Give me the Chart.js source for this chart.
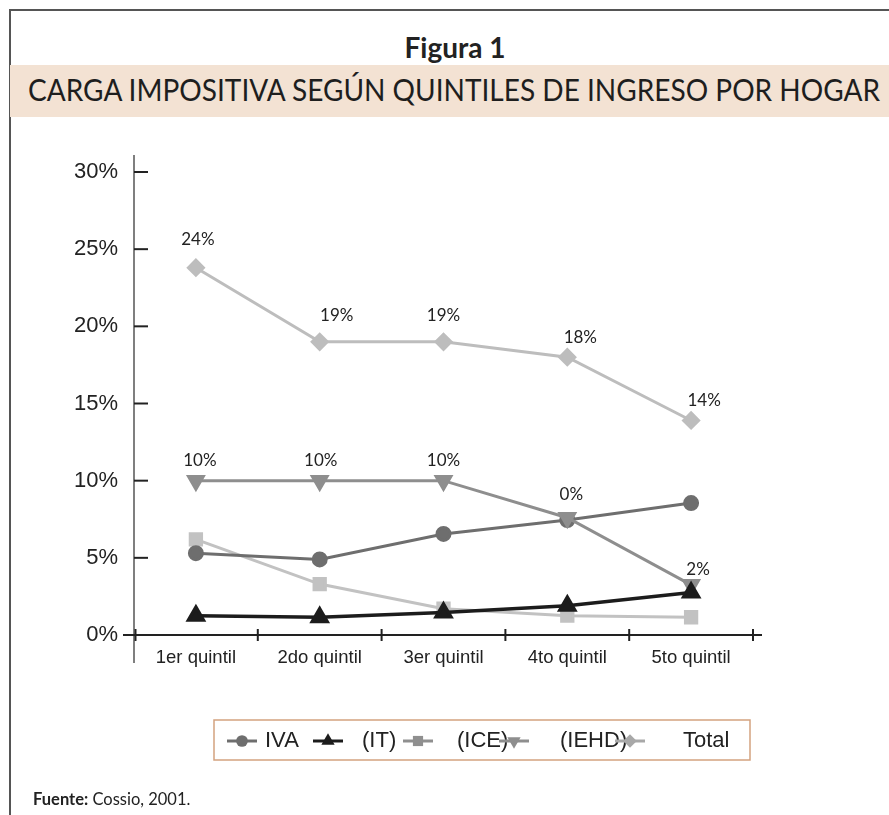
<!DOCTYPE html>
<html lang="es">
<head>
<meta charset="utf-8">
<title>Carga impositiva según quintiles de ingreso por hogar</title>
<script src="https://cdn.jsdelivr.net/npm/chart.js@4.4.1/dist/chart.umd.min.js"></script>
<style>
  html, body { margin: 0; padding: 0; background: #fff; }
  body { width: 889px; height: 815px; position: relative; overflow: hidden; font-family: Lato, sans-serif; color: #222; }
  .frame-left { position: absolute; left: 9px; top: 9px; width: 1.5px; height: 806px; background: #555; }
  .frame-top { position: absolute; left: 9px; top: 9px; width: 880px; height: 1.5px; background: #555; }
  .fig-num { position: absolute; left: 455px; top: 33px; transform: translateX(-50%); font-size: 28px; line-height: 28px; font-weight: 700; white-space: nowrap; }
  .band { position: absolute; left: 10px; top: 65px; width: 879px; height: 52px; background: #f3e2d3; }
  .band-title { position: absolute; left: 28px; top: 74px; font-size: 31px; line-height: 31px; white-space: nowrap; transform-origin: 0 0; color: #1e1e1e; }
  .source { position: absolute; left: 33px; top: 791px; font-size: 16.5px; line-height: 16px; white-space: nowrap; }
  #chart { position: absolute; left: 0; top: 0; }
</style>
</head>
<body>
<div class="frame-left"></div>
<div class="frame-top"></div>
<div class="fig-num">Figura 1</div>
<div class="band"></div>
<div class="band-title" id="bandTitle">CARGA IMPOSITIVA SEGÚN QUINTILES DE INGRESO POR HOGAR</div>
<canvas id="chart" width="889" height="815"></canvas>
<div class="source"><b>Fuente:</b> Cossio, 2001.</div>

<script>
// valores en %
const quintiles = ['1er quintil', '2do quintil', '3er quintil', '4to quintil', '5to quintil'];
const iva   = [5.3, 4.9, 6.55, 7.45, 8.55];
const it    = [1.25, 1.15, 1.45, 1.9, 2.75];
const ice   = [6.2, 3.3, 1.7, 1.25, 1.15];
const iehd  = [10.0, 10.0, 10.0, 7.6, 3.25];
const total = [23.8, 19.0, 19.0, 18.0, 13.9];
const totalLabels = ['24%', '19%', '19%', '18%', '14%'];
const iehdLabels  = ['10%', '10%', '10%', '0%', '2%'];
const yMax = 30;
const yStep = 5;

// ajuste del titulo al ancho de la franja
const bt = document.getElementById('bandTitle');
bt.style.transform = 'scaleX(' + (852 / bt.offsetWidth) + ')';

// desplazamiento de las etiquetas respecto a cada punto
const totalShift = [[2, -28], [17, -26], [0, -26], [13, -20], [13, -20]];
const iehdShift  = [[4, -20], [1, -20], [0, -20], [4, -23], [7, -15]];

const legendSlots = [
  { mark: 242, text: 265 },
  { mark: 328, text: 362 },
  { mark: 418, text: 457 },
  { mark: 514, text: 560 },
  { mark: 630, text: 683 }
];

const axesPlugin = {
  id: 'axes',
  beforeDatasetsDraw(chart) {
    const { ctx, chartArea: a, scales: { y } } = chart;
    ctx.save();
    ctx.strokeStyle = '#555';
    ctx.lineWidth = 1.5;
    ctx.beginPath();
    ctx.moveTo(a.left, a.top - 17);
    ctx.lineTo(a.left, a.bottom + 28);
    ctx.stroke();

    ctx.strokeStyle = '#222';
    ctx.lineWidth = 2;
    ctx.beginPath();
    ctx.moveTo(a.left - 11, a.bottom);
    ctx.lineTo(a.right + 9, a.bottom);
    ctx.stroke();

    y.ticks.forEach(t => {
      if (t.value === 0) return;
      const py = y.getPixelForValue(t.value);
      ctx.beginPath();
      ctx.moveTo(a.left, py);
      ctx.lineTo(a.left + 14, py);
      ctx.stroke();
    });

    const step = (a.right - a.left) / quintiles.length;
    for (let i = 0; i <= quintiles.length; i++) {
      const px = a.left + i * step + (i === 0 ? 1.5 : 0);
      ctx.beginPath();
      ctx.moveTo(px, a.bottom - 6);
      ctx.lineTo(px, a.bottom + 6);
      ctx.stroke();
    }
    ctx.restore();
  }
};

const labelsPlugin = {
  id: 'pointText',
  afterDatasetsDraw(chart) {
    const { ctx } = chart;
    ctx.save();
    ctx.font = '17px Lato, sans-serif';
    ctx.fillStyle = '#222';
    ctx.textAlign = 'center';
    ctx.textBaseline = 'middle';
    chart.data.datasets.forEach((ds, i) => {
      if (!ds.pointText) return;
      chart.getDatasetMeta(i).data.forEach((pt, j) => {
        const s = ds.textShift[j];
        ctx.fillText(ds.pointText[j], pt.x + s[0], pt.y + s[1]);
      });
    });
    ctx.restore();
  }
};

const legendPlugin = {
  id: 'boxLegend',
  afterDraw(chart) {
    const { ctx } = chart;
    const cy = 741;
    ctx.save();
    ctx.strokeStyle = '#d3a27f';
    ctx.lineWidth = 1.5;
    ctx.strokeRect(214, 720, 536, 40);
    ctx.font = '22px "Liberation Sans", Arial, sans-serif';
    ctx.textBaseline = 'middle';
    ctx.textAlign = 'left';
    chart.data.datasets.forEach((ds, i) => {
      const slot = legendSlots[i];
      const col = ds.legendColor || ds.borderColor;
      ctx.strokeStyle = col;
      ctx.lineWidth = 3;
      ctx.beginPath();
      ctx.moveTo(slot.mark - 15, cy);
      ctx.lineTo(slot.mark + 15, cy);
      ctx.stroke();
      ctx.fillStyle = col;
      Chart.helpers.drawPoint(ctx, {
        pointStyle: ds.pointStyle,
        rotation: ds.pointRotation || 0,
        radius: ds.pointRadius * 0.9,
        borderWidth: 0
      }, slot.mark, cy);
      ctx.fillStyle = '#222';
      ctx.fillText(ds.label, slot.text, cy);
    });
    ctx.restore();
  }
};

new Chart(document.getElementById('chart'), {
  type: 'line',
  data: {
    labels: quintiles,
    datasets: [
      { label: 'IVA', data: iva, borderColor: '#6e6e6e', backgroundColor: '#6e6e6e',
        pointStyle: 'circle', pointRadius: 6.5, borderWidth: 3, order: 3 },
      { label: '(IT)', data: it, borderColor: '#1c1c1c', backgroundColor: '#1c1c1c',
        pointStyle: 'triangle', pointRadius: 8.5, borderWidth: 3.5, order: 1 },
      { label: '(ICE)', data: ice, borderColor: '#c2c2c2', backgroundColor: '#c2c2c2',
        legendColor: '#8f8f8f',
        pointStyle: 'rect', pointRadius: 8, borderWidth: 3, order: 4 },
      { label: '(IEHD)', data: iehd, borderColor: '#8e8e8e', backgroundColor: '#8e8e8e',
        pointStyle: 'triangle', pointRotation: 180, pointRadius: 8.5, borderWidth: 3, order: 2,
        pointText: iehdLabels, textShift: iehdShift },
      { label: 'Total', data: total, borderColor: '#bdbdbd', backgroundColor: '#bdbdbd',
        legendColor: '#a8a8a8',
        pointStyle: 'rectRot', pointRadius: 7.5, borderWidth: 3, order: 5,
        pointText: totalLabels, textShift: totalShift }
    ]
  },
  options: {
    responsive: false,
    animation: false,
    devicePixelRatio: 1,
    layout: { padding: { left: 0, top: 172, right: 136, bottom: 140 } },
    elements: { line: { tension: 0 }, point: { borderWidth: 0, hoverRadius: 0 } },
    plugins: { legend: { display: false }, tooltip: { enabled: false } },
    scales: {
      x: {
        offset: true,
        grid: { display: false, drawTicks: false },
        border: { display: false },
        ticks: { color: '#222', padding: 12, font: { family: '"Liberation Sans", Arial, sans-serif', size: 18.5 } },
        afterFit(s) { s.height = 40; }
      },
      y: {
        min: 0,
        max: yMax,
        grid: { display: false, drawTicks: false },
        border: { display: false },
        ticks: {
          stepSize: yStep,
          color: '#222',
          padding: 16,
          font: { family: '"Liberation Sans", Arial, sans-serif', size: 22 },
          callback: v => v + '%'
        },
        afterFit(s) { s.width = 134; }
      }
    }
  },
  plugins: [axesPlugin, labelsPlugin, legendPlugin]
});
</script>
</body>
</html>
